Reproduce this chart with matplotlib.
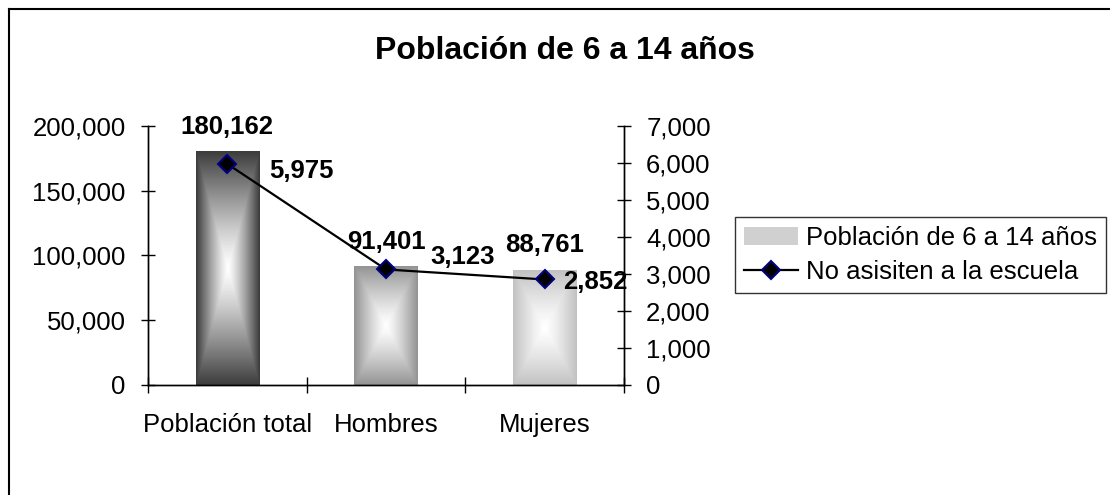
import numpy as np
import matplotlib
matplotlib.use("Agg")
import matplotlib.pyplot as plt
from matplotlib.lines import Line2D
from matplotlib.patches import Patch
from matplotlib.ticker import FuncFormatter

plt.rcParams['font.family'] = ['Liberation Sans', 'DejaVu Sans']

categories = ["Población total", "Hombres", "Mujeres"]
poblacion = [180162, 91401, 88761]
no_asisten = [5975, 3123, 2852]
bar_series = "Población de 6 a 14 años"
line_series = "No asisiten a la escuela"
title = "Población de 6 a 14 años"

bar_edge_grays = [0.24, 0.58, 0.76]
line_label_offsets = [(30, -5), (32, 9), (13, -1.5)]

fig = plt.figure(figsize=(11.1, 4.95), dpi=100)
ax = fig.add_axes([148 / 1110, 1 - 385 / 495, (624 - 148) / 1110, (385 - 126) / 495])
ax2 = ax.twinx()

x = np.arange(len(categories))
bars = ax.bar(x, poblacion, width=0.4, color="none", edgecolor="none", zorder=2)


def gradient_img(gray, h=200, w=60):
    u = np.abs(np.linspace(-1, 1, w))[None, :]
    v = np.abs(np.linspace(-1, 1, h))[:, None]
    t = np.maximum(u, v)
    t = np.clip(t, 0, 1) ** 1.2
    c = 1.0 - (1.0 - gray) * t
    return c


for b, g in zip(bars, bar_edge_grays):
    x0, y0 = b.get_x(), b.get_y()
    img = gradient_img(g)
    ax.imshow(img, extent=(x0, x0 + b.get_width(), y0, y0 + b.get_height()),
              cmap="gray", vmin=0, vmax=1, aspect="auto", zorder=2,
              interpolation="bilinear")

for xi, val in zip(x, poblacion):
    ax.annotate(f"{val:,}", (xi, val), xytext=(0, 18), textcoords="offset points",
                ha="center", va="center", fontsize=18.5, fontweight="bold")

ax.set_xlim(-0.5, 2.5)
ax.set_ylim(0, 200000)
ax.set_yticks(np.arange(0, 200001, 50000))
ax.yaxis.set_major_formatter(FuncFormatter(lambda v, p: f"{int(v):,}"))

ax2.plot(x, no_asisten, color="black", lw=1.6, marker="D", markersize=9,
         markerfacecolor="black", markeredgecolor="#000080", markeredgewidth=1.5, zorder=5)
for xi, val, off in zip(x, no_asisten, line_label_offsets):
    ax2.annotate(f"{val:,}", (xi, val), xytext=off, textcoords="offset points",
                 ha="left", va="center", fontsize=18.5, fontweight="bold")
ax2.set_ylim(0, 7000)
ax2.set_yticks(np.arange(0, 7001, 1000))
ax2.yaxis.set_major_formatter(FuncFormatter(lambda v, p: f"{int(v):,}"))

ax.set_xticks(x)
ax.set_xticklabels(categories)
ax.set_xticks([-0.5, 0.5, 1.5, 2.5], minor=True)
ax.tick_params(axis="x", which="major", length=0, pad=20, labelsize=18.5)
ax.tick_params(axis="x", which="minor", direction="inout", length=11, width=1)
ax.tick_params(axis="y", direction="inout", length=10, width=1, pad=11, labelsize=18.5)
ax2.tick_params(axis="y", direction="inout", length=10, width=1, pad=11, labelsize=18.5)

for a in (ax, ax2):
    a.spines["top"].set_visible(False)
    for s in a.spines.values():
        s.set_linewidth(1)
ax2.set_zorder(ax.get_zorder() + 1)
ax2.patch.set_visible(False)

fig.text(565 / 1110, 1 - 51 / 495, title, ha="center", va="center",
         fontsize=23, fontweight="bold")

# outer chart frame
fig.add_artist(Line2D([8.5 / 1110, 8.5 / 1110], [0, 1 - 9 / 495], color="black", lw=1.5))
fig.add_artist(Line2D([8.5 / 1110, 1], [1 - 9 / 495, 1 - 9 / 495], color="black", lw=1.5))

handles = [Patch(facecolor="#d0d0d0", edgecolor="none"),
           Line2D([], [], color="black", lw=1.6, marker="D", markersize=9,
                  markerfacecolor="black", markeredgecolor="#000080", markeredgewidth=1.5)]
leg = fig.legend(handles, [bar_series, line_series], loc="upper left",
                 bbox_to_anchor=(735 / 1110, 1 - 217 / 495), borderaxespad=0,
                 fontsize=18.5, frameon=True, fancybox=False, edgecolor="black",
                 handlelength=2.1, handletextpad=0.3, labelspacing=0.4,
                 borderpad=0.35)
leg.get_frame().set_linewidth(1)

fig.savefig("out.png", dpi=100)
